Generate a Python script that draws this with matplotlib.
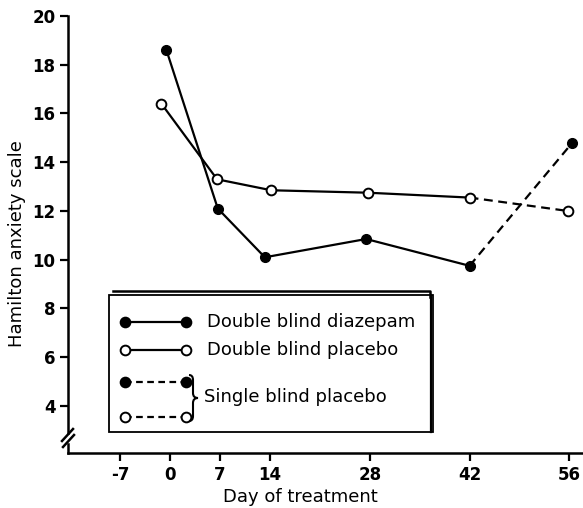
import matplotlib.pyplot as plt
from matplotlib.path import Path
from matplotlib.patches import PathPatch, Rectangle

# Double blind phase (solid lines)
diaz_days = [-0.5, 6.7, 13.3, 27.5, 42]
diaz_score = [18.6, 12.1, 10.1, 10.85, 9.75]
plac_days = [-1.2, 6.6, 14.2, 27.7, 42]
plac_score = [16.4, 13.3, 12.85, 12.75, 12.55]

# Single blind placebo phase (dashed lines)
sb_diaz_days = [42, 56.4]
sb_diaz_score = [9.75, 14.8]
sb_plac_days = [42, 55.8]
sb_plac_score = [12.55, 12.0]

x_ticks = [-7, 0, 7, 14, 28, 42, 56]
y_ticks = [4, 6, 8, 10, 12, 14, 16, 18, 20]

legend_labels = ["Double blind diazepam", "Double blind placebo", "Single blind placebo"]

plt.rcParams['font.family'] = ['DejaVu Sans']
plt.rcParams['axes.unicode_minus'] = False

W, H = 583, 508
fig = plt.figure(figsize=(W / 100, H / 100), dpi=100)
ax_l, ax_r, ax_t, ax_b = 68, 583, 16, 453
ax = fig.add_axes([ax_l / W, 1 - ax_b / H, (ax_r - ax_l) / W, (ax_b - ax_t) / H])

lw = 1.6
ms = 7
ax.plot(diaz_days, diaz_score, color='black', lw=lw, marker='o', ms=ms,
        mfc='black', mec='black', zorder=3)
ax.plot(plac_days, plac_score, color='black', lw=lw, marker='o', ms=ms,
        mfc='white', mec='black', mew=1.4, zorder=3)
ax.plot(sb_diaz_days, sb_diaz_score, color='black', lw=lw, ls=(0, (4, 2.5)),
        marker='o', ms=ms, mfc='black', mec='black', markevery=[1], zorder=2)
ax.plot(sb_plac_days, sb_plac_score, color='black', lw=lw, ls=(0, (4, 2.5)),
        marker='o', ms=ms, mfc='white', mec='black', mew=1.4, markevery=[1], zorder=2)

ax.set_xlim(-14.3, 57.9)
ax.set_ylim(2.07, 20)
ax.set_xticks(x_ticks)
ax.set_yticks(y_ticks)
ax.tick_params(direction='out', length=6, width=1.6, labelsize=12, pad=3)
for lab in ax.get_xticklabels() + ax.get_yticklabels():
    lab.set_fontweight('bold')

for s in ['top', 'right']:
    ax.spines[s].set_visible(False)
for s in ['left', 'bottom']:
    ax.spines[s].set_linewidth(1.8)
ax.spines['left'].set_bounds(2.9, 20)

# lower stub of the broken y axis and the break marks
def px(x, y):
    return ((x - ax_l) / (ax_r - ax_l), 1 - (y - ax_t) / (ax_b - ax_t))

kw = dict(transform=ax.transAxes, color='black', lw=1.8, clip_on=False)
ax.plot(*zip(px(68, 444), px(68, 453)), **kw)
ax.plot(*zip(px(62, 441), px(73, 429)), **kw)
ax.plot(*zip(px(63, 447), px(74, 435)), **kw)

# legend box with shadow edge
x0, y0 = px(109, 432)
x1, y1 = px(433, 295)
ax.add_patch(Rectangle((x0, y0), x1 - x0, y1 - y0, transform=ax.transAxes,
                       fill=False, ec='black', lw=1.3, clip_on=False, zorder=4))
ax.plot(*zip(px(113, 291), px(430, 291), px(430, 297)), transform=ax.transAxes,
        color='black', lw=1.8, clip_on=False, zorder=4)
ax.plot(*zip(px(431, 295), px(431, 432)), transform=ax.transAxes,
        color='black', lw=1.6, clip_on=False, zorder=4)

rows = [322, 350, 382, 417]
styles = [('black', '-'), ('white', '-'), ('black', (0, (3, 2))), ('white', (0, (3, 2)))]
for ry, (fc, ls) in zip(rows, styles):
    xs, ys = zip(px(125, ry), px(186, ry))
    ax.plot(xs, ys, transform=ax.transAxes, color='black', lw=lw, ls=ls,
            marker='o', ms=ms, mfc=fc, mec='black', mew=1.4, clip_on=False, zorder=5)

tx, _ = px(207, 0)
ax.text(tx, px(0, 322)[1], legend_labels[0], transform=ax.transAxes,
        fontsize=13, va='center', ha='left')
ax.text(tx, px(0, 350)[1], legend_labels[1], transform=ax.transAxes,
        fontsize=13, va='center', ha='left')
ax.text(px(204, 0)[0], px(0, 397)[1], legend_labels[2], transform=ax.transAxes,
        fontsize=13, va='center', ha='left')

# curly brace joining the two single blind rows
bp = [(189, 375), (193, 375), (193, 380), (193, 393), (193, 398), (198, 398),
      (193, 398), (193, 403), (193, 416), (193, 421), (189, 421)]
codes = [Path.MOVETO, Path.CURVE3, Path.CURVE3, Path.LINETO, Path.CURVE3, Path.CURVE3,
         Path.CURVE3, Path.CURVE3, Path.LINETO, Path.CURVE3, Path.CURVE3]
ax.add_patch(PathPatch(Path([px(*p) for p in bp], codes), transform=ax.transAxes,
                       fill=False, ec='black', lw=1.5, clip_on=False, zorder=5))

fig.text(300 / W, 1 - 497 / H, "Day of treatment", fontsize=13, ha='center', va='center')
fig.text(17 / W, 1 - 244 / H, "Hamilton anxiety scale", fontsize=13, ha='center',
         va='center', rotation=90)

fig.savefig("out.png", dpi=100)
